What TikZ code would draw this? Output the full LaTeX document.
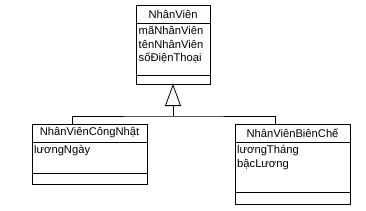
\documentclass[tikz,border=0pt]{standalone}
\usepackage{fontspec}
\setmainfont{Liberation Sans}
\usetikzlibrary{positioning,arrows.meta}

\begin{document}
\begin{tikzpicture}[x=1pt, y=1pt,
  head/.style={draw, line width=0.8pt, inner sep=0pt, outer sep=0pt, minimum height=18pt,
    font=\fontsize{11.2}{13.5}\selectfont},
  part/.style={draw, line width=0.8pt, inner sep=0pt, outer sep=0pt},
  attr/.style={align=left, inner sep=0pt, anchor=north west, font=\fontsize{11.2}{13.5}\selectfont},
  link/.style={draw, line width=0.8pt}]
  \useasboundingbox (0,0) rectangle (366,-211);
  % superclass
  \node[head, minimum width=74pt] (nv) at (173,-14) {NhânViên};
  \node[part, minimum width=74pt, minimum height=52pt, below=0pt of nv] (nvA) {};
  \node[part, minimum width=74pt, minimum height=9pt, below=0pt of nvA] (nvO) {};
  \node[attr] (nvT) at ([xshift=2.5pt, yshift=-3.5pt]nvA.north west)
    {mãNhânViên\\tênNhânViên\\sốĐiệnThoại};
  % subclasses
  \node[head, minimum width=115pt] (cn) at (89.5,-133) {NhânViênCôngNhật};
  \node[part, minimum width=115pt, minimum height=31pt, below=0pt of cn] (cnA) {};
  \node[part, minimum width=115pt, minimum height=11pt, below=0pt of cnA] (cnO) {};
  \node[attr] (cnT) at ([xshift=2pt, yshift=-3.5pt]cnA.north west) {lươngNgày};
  \node[head, minimum width=115pt] (bc) at (292.5,-133) {NhânViênBiênChế};
  \node[part, minimum width=115pt, minimum height=50pt, below=0pt of bc] (bcA) {};
  \node[part, minimum width=115pt, minimum height=12pt, below=0pt of bcA] (bcO) {};
  \node[attr] (bcT) at ([xshift=2pt, yshift=-3.5pt]bcA.north west) {lươngTháng\\bậcLương};
  % generalization
  \coordinate (bus) at (nvO.south |- 0,-116);
  \draw[link, -{Triangle[open, width=16pt, length=22pt]}] (bus) -- (nvO.south);
  \draw[link] ([xshift=-17.5pt]cn.north) |- (bus) -| ([xshift=-17.5pt]bc.north);
\end{tikzpicture}
\end{document}
